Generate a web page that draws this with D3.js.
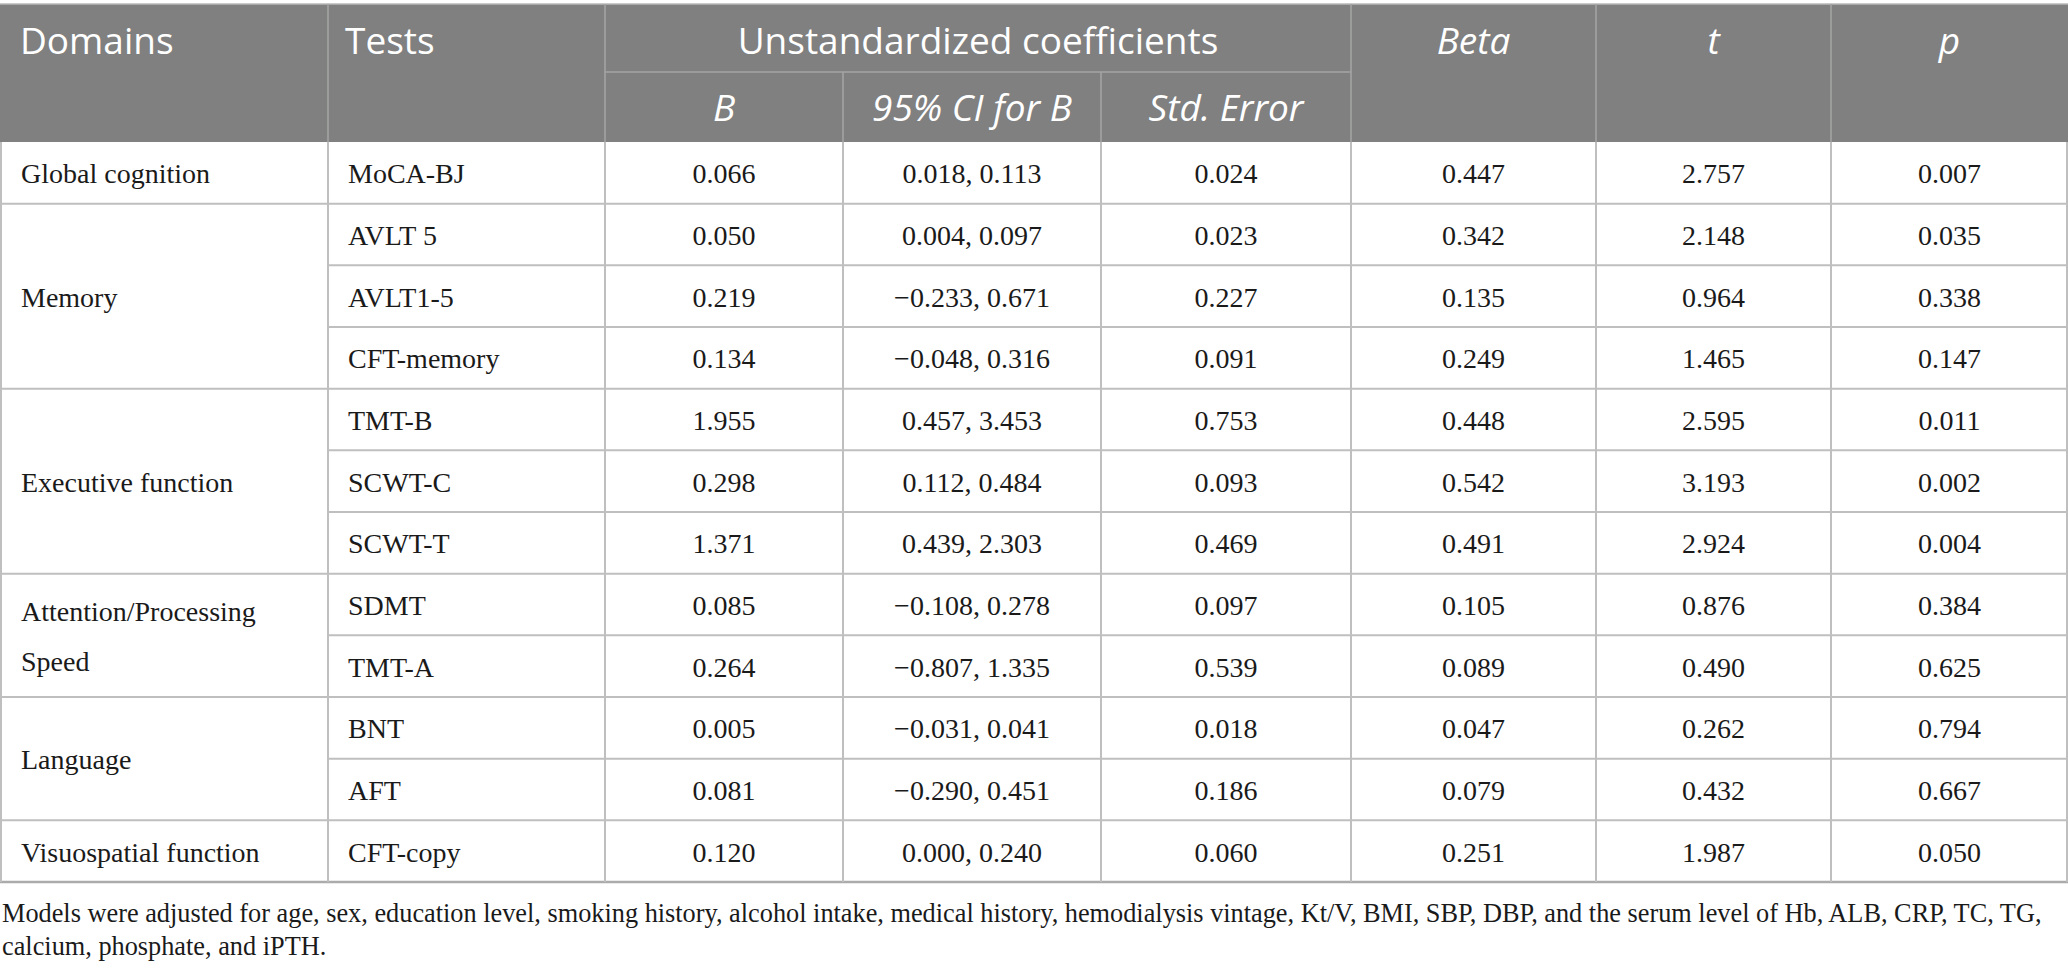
<!DOCTYPE html>
<html>
<head>
<meta charset="utf-8">
<script src="https://cdn.jsdelivr.net/npm/d3@7"></script>
<style>
  body { margin: 0; background: #fff; }
  svg { display: block; }
</style>
</head>
<body>
<div id="table"></div>
<script>
const domains = ["Global cognition", "Memory", "Executive function", "Attention/Processing Speed", "Language", "Visuospatial function"];
const domainSpans = [1, 3, 3, 2, 2, 1];
const tests = ["MoCA-BJ", "AVLT 5", "AVLT1-5", "CFT-memory", "TMT-B", "SCWT-C", "SCWT-T", "SDMT", "TMT-A", "BNT", "AFT", "CFT-copy"];
const bValues = [0.066, 0.050, 0.219, 0.134, 1.955, 0.298, 1.371, 0.085, 0.264, 0.005, 0.081, 0.120];
const ciLower = [0.018, 0.004, -0.233, -0.048, 0.457, 0.112, 0.439, -0.108, -0.807, -0.031, -0.290, 0.000];
const ciUpper = [0.113, 0.097, 0.671, 0.316, 3.453, 0.484, 2.303, 0.278, 1.335, 0.041, 0.451, 0.240];
const stdErrors = [0.024, 0.023, 0.227, 0.091, 0.753, 0.093, 0.469, 0.097, 0.539, 0.018, 0.186, 0.060];
const betaValues = [0.447, 0.342, 0.135, 0.249, 0.448, 0.542, 0.491, 0.105, 0.089, 0.047, 0.079, 0.251];
const tValues = [2.757, 2.148, 0.964, 1.465, 2.595, 3.193, 2.924, 0.876, 0.490, 0.262, 0.432, 1.987];
const pValues = [0.007, 0.035, 0.338, 0.147, 0.011, 0.002, 0.004, 0.384, 0.625, 0.794, 0.667, 0.050];
const footnote = [
    "Models were adjusted for age, sex, education level, smoking history, alcohol intake, medical history, hemodialysis vintage, Kt/V, BMI, SBP, DBP, and the serum level of Hb, ALB, CRP, TC, TG,",
    "calcium, phosphate, and iPTH."
];

const width = 2068, height = 971;
const colEdges = [0, 328, 605, 843, 1101, 1351, 1596, 1831, 2068];
const headTop = 4, headMid = 72, headBottom = 142, tableBottom = 882;

const svg = d3.select("#table").append("svg")
    .attr("width", width)
    .attr("height", height);

const rowY = d3.scaleLinear()
    .domain([0, tests.length])
    .range([headBottom, tableBottom]);

const fmt = d3.format(".3f");
const serif = "'Liberation Serif', 'Times New Roman', serif";
const sans = "'Open Sans', 'Noto Sans', sans-serif";
const colMid = i => (colEdges[i] + colEdges[i + 1]) / 2;

// header background
svg.append("rect")
    .attr("x", 0)
    .attr("y", headTop)
    .attr("width", width)
    .attr("height", headBottom - headTop)
    .attr("fill", "#7f807f");

// header lines
const headLines = svg.append("g")
    .attr("stroke", "#a3a4a3")
    .attr("stroke-width", 1.6);
headLines.append("line")
    .attr("x1", 0).attr("x2", width)
    .attr("y1", headTop).attr("y2", headTop)
    .attr("stroke", "#b8b8b8");
headLines.append("line")
    .attr("x1", colEdges[2]).attr("x2", colEdges[5])
    .attr("y1", headMid).attr("y2", headMid);
[1, 2, 5, 6, 7].forEach(i => {
    headLines.append("line")
        .attr("x1", colEdges[i]).attr("x2", colEdges[i])
        .attr("y1", headTop).attr("y2", headBottom);
});
[3, 4].forEach(i => {
    headLines.append("line")
        .attr("x1", colEdges[i]).attr("x2", colEdges[i])
        .attr("y1", headMid).attr("y2", headBottom);
});

// header text
const headText = svg.append("g")
    .attr("fill", "#fff")
    .attr("font-family", sans)
    .attr("font-size", 37);
headText.append("text").attr("x", 20).attr("y", 54).text("Domains");
headText.append("text").attr("x", colEdges[1] + 17).attr("y", 54).text("Tests");
headText.append("text")
    .attr("x", (colEdges[2] + colEdges[5]) / 2).attr("y", 54)
    .attr("text-anchor", "middle")
    .text("Unstandardized coefficients");
[["B", 2], ["95% CI for B", 3], ["Std. Error", 4]].forEach(([label, i]) => {
    headText.append("text")
        .attr("x", colMid(i)).attr("y", 121)
        .attr("text-anchor", "middle")
        .attr("font-style", "italic")
        .text(label);
});
[["Beta", 5], ["t", 6], ["p", 7]].forEach(([label, i]) => {
    headText.append("text")
        .attr("x", colMid(i)).attr("y", 54)
        .attr("text-anchor", "middle")
        .attr("font-style", "italic")
        .text(label);
});

// body grid
const grid = svg.append("g")
    .attr("stroke", "#bfbfbf")
    .attr("stroke-width", 2);

// domain block boundaries
let start = 0;
const blocks = domains.map((name, i) => {
    const b = {name: name, start: start, end: start + domainSpans[i]};
    start += domainSpans[i];
    return b;
});

d3.range(1, tests.length + 1).forEach(r => {
    const isBlockEnd = blocks.some(b => b.end === r);
    grid.append("line")
        .attr("x1", isBlockEnd ? 0 : colEdges[1]).attr("x2", width)
        .attr("y1", rowY(r)).attr("y2", rowY(r))
        .attr("stroke", r === tests.length ? "#ababab" : null)
        .attr("stroke-width", r === tests.length ? 2.4 : null);
});
colEdges.forEach(x => {
    grid.append("line")
        .attr("x1", Math.min(Math.max(x, 1), width - 1))
        .attr("x2", Math.min(Math.max(x, 1), width - 1))
        .attr("y1", headBottom).attr("y2", tableBottom);
});

// body text
const body = svg.append("g")
    .attr("fill", "#1a1a1a")
    .attr("font-family", serif)
    .attr("font-size", 28);

blocks.forEach(b => {
    const mid = (rowY(b.start) + rowY(b.end)) / 2;
    const words = b.name === "Attention/Processing Speed" ? ["Attention/Processing", "Speed"] : [b.name];
    words.forEach((w, k) => {
        body.append("text")
            .attr("x", 21)
            .attr("y", mid + 10.5 + (k - (words.length - 1) / 2) * 50)
            .text(w);
    });
});

const columns = [
    tests,
    bValues.map(fmt),
    ciLower.map((v, i) => fmt(v) + ", " + fmt(ciUpper[i])),
    stdErrors.map(fmt),
    betaValues.map(fmt),
    tValues.map(fmt),
    pValues.map(fmt)
];

columns.forEach((vals, c) => {
    const col = c + 1;
    body.selectAll(null)
        .data(vals)
        .join("text")
        .attr("x", col === 1 ? colEdges[1] + 20 : colMid(col))
        .attr("y", (d, i) => (rowY(i) + rowY(i + 1)) / 2 + 10.5)
        .attr("text-anchor", col === 1 ? "start" : "middle")
        .text(d => d);
});

// footnote, shrunk so the first line fits the printed width
const note = svg.append("g")
    .attr("fill", "#1a1a1a")
    .attr("font-family", serif)
    .attr("font-size", 27);
const noteLines = note.selectAll("text")
    .data(footnote)
    .join("text")
    .attr("x", 2)
    .attr("y", (d, i) => 922 + i * 33)
    .text(d => d);

const firstWidth = noteLines.node().getComputedTextLength();
if (firstWidth > 2040) {
    note.attr("font-size", 27 * 2040 / firstWidth);
}
</script>
</body>
</html>
